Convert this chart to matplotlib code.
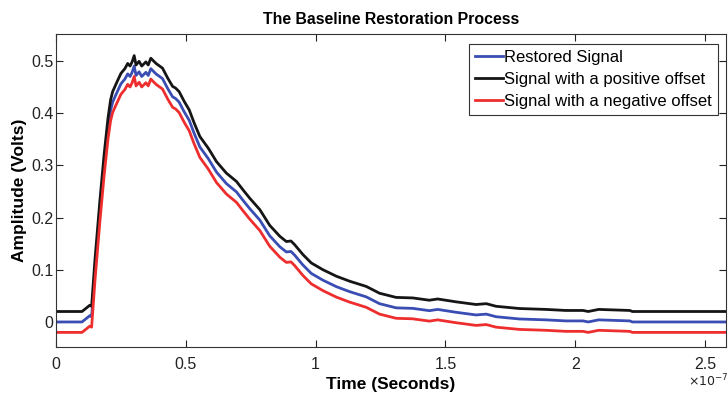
import matplotlib
matplotlib.use("Agg")
import matplotlib.pyplot as plt
import numpy as np

plt.rcParams["font.family"] = ["Liberation Sans", "DejaVu Sans"]

# time in units of 1e-7 s, restored signal in volts
time_e7 = [0, 0.10, 0.13, 0.137, 0.150, 0.169, 0.185, 0.20, 0.21, 0.218,
           0.235, 0.25, 0.265, 0.276, 0.285, 0.293, 0.301, 0.308, 0.32,
           0.33, 0.346, 0.355, 0.365, 0.385, 0.41, 0.43, 0.449, 0.46,
           0.474, 0.494, 0.513, 0.532, 0.554, 0.586, 0.618, 0.656, 0.695,
           0.72, 0.746, 0.785, 0.823, 0.862, 0.887, 0.905, 0.919, 0.951,
           0.983, 1.028, 1.08, 1.131, 1.195, 1.246, 1.31, 1.374, 1.438,
           1.47, 1.541, 1.618, 1.657, 1.695, 1.785, 1.887, 1.964, 2.03,
           2.05, 2.09, 2.21, 2.22, 2.58]
restored = [0, 0, 0.012, 0.010, 0.10, 0.213, 0.30, 0.37, 0.405, 0.421,
            0.44, 0.456, 0.465, 0.475, 0.47, 0.478, 0.490, 0.472, 0.479,
            0.47, 0.478, 0.472, 0.485, 0.475, 0.466, 0.447, 0.431, 0.428,
            0.421, 0.402, 0.386, 0.361, 0.335, 0.313, 0.287, 0.265, 0.249,
            0.233, 0.217, 0.195, 0.165, 0.144, 0.134, 0.135, 0.128, 0.109,
            0.093, 0.080, 0.0675, 0.058, 0.048, 0.035, 0.027, 0.026, 0.0216,
            0.024, 0.0185, 0.0134, 0.015, 0.010, 0.0057, 0.004, 0.002, 0.002,
            0.0, 0.004, 0.002, 0.0, 0.0]
positive_offset = 0.02
negative_offset = -0.02

t = np.array(time_e7)
v = np.array(restored)

fig = plt.figure(figsize=(7.28, 3.93), dpi=100)
ax = fig.add_axes([0.077, 0.117, 0.920, 0.796])

ax.plot(t, v, color="#3a4db3", lw=2.0, label="Restored Signal")
ax.plot(t, v + positive_offset, color="#151515", lw=2.0,
        label="Signal with a positive offset")
ax.plot(t, v + negative_offset, color="#ee2e2e", lw=2.0,
        label="Signal with a negative offset")

ax.set_xlim(0, 2.58)
ax.set_ylim(-0.048, 0.551)
ax.set_xticks([0, 0.5, 1, 1.5, 2, 2.5])
ax.set_xticklabels(["0", "0.5", "1", "1.5", "2", "2.5"])
ax.set_yticks([0, 0.1, 0.2, 0.3, 0.4, 0.5])
ax.set_yticklabels(["0", "0.1", "0.2", "0.3", "0.4", "0.5"])
ax.tick_params(direction="in", top=True, right=True, length=5,
               width=0.8, labelsize=11.5, colors="#222222")
ax.tick_params(axis="y", pad=2)
ax.tick_params(axis="x", pad=7)
for s in ax.spines.values():
    s.set_color("#333333")
    s.set_linewidth(0.8)

ax.set_xlabel("Time (Seconds)", fontsize=12.5, fontweight="bold", labelpad=4)
ax.set_ylabel("Amplitude (Volts)", fontsize=12.5, fontweight="bold",
              labelpad=3)
ax.set_title("The Baseline Restoration Process", fontsize=11.4,
             fontweight="bold", pad=7)
ax.text(0.944, -0.109, r"$\times10^{-7}$", transform=ax.transAxes,
        fontsize=9, ha="left", va="center", color="#222222")

leg = ax.legend(loc="upper right", bbox_to_anchor=(0.988, 0.968),
                fontsize=12, fancybox=False, framealpha=1,
                edgecolor="#333333", borderpad=0.35, handlelength=1.65,
                handletextpad=0.1, labelspacing=0.42, borderaxespad=0)
leg.get_frame().set_linewidth(0.8)

fig.savefig("out.png", dpi=100)
